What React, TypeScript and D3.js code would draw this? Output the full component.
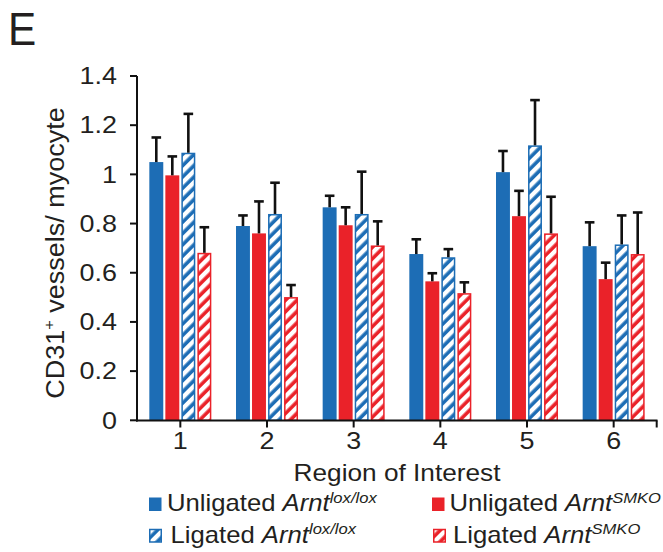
import React from 'react';
import * as d3 from 'd3';

const regions = ['1', '2', '3', '4', '5', '6'];
const seriesNames = ['unligLox', 'unligSmko', 'ligLox', 'ligSmko'];
const unligLox = [1.05, 0.79, 0.866, 0.676, 1.009, 0.708];
const unligLoxErr = [0.1, 0.043, 0.047, 0.06, 0.086, 0.097];
const unligSmko = [0.996, 0.76, 0.793, 0.565, 0.83, 0.574];
const unligSmkoErr = [0.077, 0.13, 0.073, 0.033, 0.103, 0.067];
const ligLox = [1.088, 0.839, 0.839, 0.663, 1.118, 0.715];
const ligLoxErr = [0.158, 0.127, 0.172, 0.033, 0.184, 0.118];
const ligSmko = [0.681, 0.501, 0.711, 0.517, 0.76, 0.676];
const ligSmkoErr = [0.104, 0.049, 0.098, 0.044, 0.149, 0.169];
const yTicks = [0, 0.2, 0.4, 0.6, 0.8, 1, 1.2, 1.4];

const BLUE = '#1d6db5';
const RED = '#ea2229';
const FONT = '"Liberation Sans", Arial, sans-serif';

// stretched text, the reference font runs wider than Arial
const SText = ({ x, y, sx = 1.15, rotate = 0, anchor = 'start', size = 23, children }: any) => (
  <g transform={`translate(${x},${y}) rotate(${rotate}) scale(${sx},1)`}>
    <text textAnchor={anchor} fontSize={size} fontFamily={FONT} fill="#231f20">{children}</text>
  </g>
);

const App = () => {
  const width = 663;
  const height = 552;

  const x0 = d3.scaleBand().domain(regions).range([137, 657]).padding(0);
  const x1 = d3.scaleBand().domain(seriesNames).range([-31, 31]).paddingInner(0.13);
  const y = d3.scaleLinear().domain([0, 1.4]).range([420.3, 76]);

  const series = [
    { key: 'unligLox', values: unligLox, err: unligLoxErr, color: BLUE, hatched: false },
    { key: 'unligSmko', values: unligSmko, err: unligSmkoErr, color: RED, hatched: false },
    { key: 'ligLox', values: ligLox, err: ligLoxErr, color: BLUE, hatched: true },
    { key: 'ligSmko', values: ligSmko, err: ligSmkoErr, color: RED, hatched: true },
  ];

  const center = (r: string) => (x0(r) as number) + x0.bandwidth() / 2;
  const bw = x1.bandwidth();

  const legend = [
    { color: BLUE, hatched: false, x: 149, tx: 167, y: 511, label: 'Unligated ', sup: 'lox/lox' },
    { color: RED, hatched: false, x: 432, tx: 449.5, y: 511, label: 'Unligated ', sup: 'SMKO' },
    { color: BLUE, hatched: true, x: 149, tx: 170.5, y: 542.5, label: 'Ligated ', sup: 'lox/lox' },
    { color: RED, hatched: true, x: 433, tx: 453, y: 542.5, label: 'Ligated ', sup: 'SMKO' },
  ];

  return (
    <svg width={width} height={height} style={{ position: 'absolute', left: 0, top: 0, background: '#fff' }}>
      <defs>
        {[['hatchBlue', BLUE], ['hatchRed', RED]].map(([id, c]) => (
          <pattern key={id} id={id} width={8} height={8} patternUnits="userSpaceOnUse" patternTransform="rotate(45)">
            <rect width={8} height={8} fill={c} />
            <rect x={0} width={4.4} height={8} fill="#fff" />
          </pattern>
        ))}
      </defs>

      <SText x={8} y={45} size={46} sx={0.92}>E</SText>

      {/* bars */}
      {series.map((s) => (
        <g key={s.key}>
          {regions.map((r, i) => {
            const bx = center(r) + (x1(s.key) as number);
            const top = y(s.values[i]);
            return s.hatched ? (
              <rect key={r} x={bx + 0.75} y={top + 0.75} width={bw - 1.5} height={y(0) - top - 0.75}
                fill={`url(#${s.color === BLUE ? 'hatchBlue' : 'hatchRed'})`} stroke={s.color} strokeWidth={1.5} />
            ) : (
              <rect key={r} x={bx} y={top} width={bw} height={y(0) - top} fill={s.color} />
            );
          })}
        </g>
      ))}

      {/* error bars */}
      {series.map((s) => (
        <g key={s.key + 'err'} stroke="#111" strokeWidth={2.6}>
          {regions.map((r, i) => {
            const cx = center(r) + (x1(s.key) as number) + bw / 2;
            const top = y(s.values[i] + s.err[i]);
            return (
              <g key={r}>
                <line x1={cx} x2={cx} y1={y(s.values[i])} y2={top} />
                <line x1={cx - 4.8} x2={cx + 4.8} y1={top} y2={top} />
              </g>
            );
          })}
        </g>
      ))}

      {/* axes */}
      <g stroke="#111" strokeWidth={2}>
        <line x1={137} x2={137} y1={y(1.4)} y2={421.5} />
        {yTicks.map((t) => (
          <line key={t} x1={130} x2={137} y1={y(t)} y2={y(t)} />
        ))}
        <line x1={136} x2={657.5} y1={420.5} y2={420.5} />
        {regions.map((r) => (
          <line key={r} x1={center(r)} x2={center(r)} y1={420.5} y2={427.5} />
        ))}
        <line x1={656.7} x2={656.7} y1={420.5} y2={427.5} />
      </g>

      {yTicks.map((t) => (
        <SText key={t} x={117} y={y(t) + 8.3} anchor="end" sx={1.17}>{d3.format('~g')(t)}</SText>
      ))}
      {regions.map((r) => (
        <SText key={r} x={center(r)} y={449} anchor="middle" sx={1.17}>{r}</SText>
      ))}

      <SText x={397} y={481} anchor="middle" sx={1.14}>Region of Interest</SText>

      <SText x={63.5} y={253} rotate={-90} anchor="middle" size={25} sx={1.08}>
        CD31<tspan fontSize={15} dy={-10}>+</tspan><tspan dy={10}> vessels/ myocyte</tspan>
      </SText>

      {/* legend */}
      {legend.map((l) => (
        <g key={l.label + l.sup + l.color}>
          {l.hatched ? (
            <rect x={l.x + 0.75} y={l.y - 13} width={11.5} height={12.5}
              fill={`url(#${l.color === BLUE ? 'hatchBlue' : 'hatchRed'})`} stroke={l.color} strokeWidth={1.5} />
          ) : (
            <rect x={l.x} y={l.y - 13.5} width={12.5} height={13.5} fill={l.color} />
          )}
          <SText x={l.tx} y={l.y} size={24} sx={1.07}>
            {l.label}<tspan fontStyle="italic">Arnt</tspan>
            <tspan fontStyle="italic" fontSize={15.5} dy={-8.5}>{l.sup}</tspan>
          </SText>
        </g>
      ))}
    </svg>
  );
};

export default App;
